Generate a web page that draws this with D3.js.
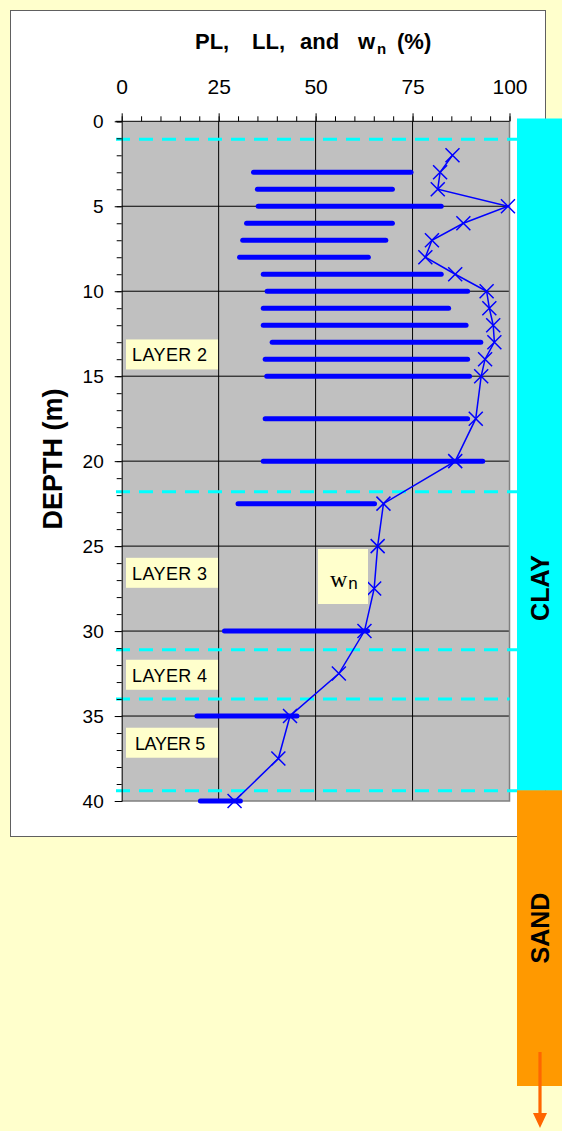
<!DOCTYPE html>
<html>
<head>
<meta charset="utf-8">
<script src="https://cdn.jsdelivr.net/npm/d3@7"></script>
<style>
  html, body { margin: 0; padding: 0; background: #ffffcc; }
  svg { display: block; }
  text { font-family: Arial, "Liberation Sans", sans-serif; }
</style>
</head>
<body>
<svg id="chart" width="562" height="1131"></svg>
<script>
// ---- data ----
const limitDepths = [3, 4, 5, 6, 7, 8, 9, 10, 11, 12, 13, 14, 15, 17.5, 20, 22.5, 30, 35, 40];
const plasticLimit = [34, 35, 35.2, 32.2, 31.2, 30.4, 36.5, 37.5, 36.5, 36.5, 38.8, 37, 37.4, 37, 36.5, 30, 26.5, 19.4, 20.3];
const liquidLimit  = [74.6, 69.8, 82.4, 69.8, 68.1, 63.6, 82.4, 89.2, 84.3, 88.8, 92.6, 89.2, 89.7, 89.2, 93.1, 65.2, 63.4, 45.2, 30.6];
const wnDepths = [2, 3, 4, 5, 6, 7, 8, 9, 10, 11, 12, 13, 14, 15, 17.5, 20, 22.5, 25, 27.5, 30, 32.5, 35, 37.5, 40];
const wnValues = [85.3, 82.1, 81.5, 99.6, 88.1, 80, 78.3, 86, 94.1, 94.8, 95.8, 96.1, 93.7, 92.7, 91.3, 86, 67.5, 66, 65.1, 62.6, 56, 43.4, 40.4, 29.1];
const xTicks = [0, 25, 50, 75, 100];
const yTicks = [0, 5, 10, 15, 20, 25, 30, 35, 40];
const layerBoundaries = [1.05, 21.8, 31.1, 34.0, 39.4];
const layerNames = ["LAYER 2", "LAYER 3", "LAYER 4", "LAYER 5"];
const layerLabelDepths = [13.75, 26.6, 32.6, 36.6];
const soilNames = ["CLAY", "SAND"];
const soilBottoms = [39.4, 57];

// ---- layout ----
const svg = d3.select("#chart");
const W = 562, H = 1131;
const x = d3.scaleLinear().domain([0, 100]).range([121.7, 509.5]);
const y = d3.scaleLinear().domain([0, 40]).range([121.3, 801]);

svg.append("rect").attr("width", W).attr("height", H).attr("fill", "#ffffcc");

// chart frame
svg.append("rect").attr("x", 10.5).attr("y", 10.5).attr("width", 535).attr("height", 826)
  .attr("fill", "#ffffff").attr("stroke", "#606060").attr("stroke-width", 1);

// plot area
svg.append("rect").attr("x", x(0)).attr("y", y(0)).attr("width", x(100) - x(0)).attr("height", y(40) - y(0))
  .attr("fill", "#c0c0c0");

// grid
const grid = svg.append("g");
grid.selectAll("line.v").data(xTicks.slice(1, -1)).join("line")
  .attr("x1", d => x(d)).attr("x2", d => x(d)).attr("y1", y(0)).attr("y2", y(40))
  .attr("stroke", "#000").attr("stroke-width", 1);
grid.selectAll("line.h").data(yTicks.slice(1, -1)).join("line")
  .attr("x1", x(0)).attr("x2", x(100)).attr("y1", d => y(d)).attr("y2", d => y(d))
  .attr("stroke", "#000").attr("stroke-width", 1);
// right/bottom plot border
svg.append("path")
  .attr("d", `M${x(100)},${y(0)}V${y(40)}H${x(0)}`)
  .attr("fill", "none").attr("stroke", "#808080").attr("stroke-width", 1.5);

// soil strip
const strip = svg.append("g");
const stripColors = ["#00ffff", "#ff9900"];
const clayBottom = y(soilBottoms[0]);
strip.selectAll("rect").data(soilNames).join("rect")
  .attr("x", 517).attr("width", 45)
  .attr("y", (d, i) => i === 0 ? 118.5 : clayBottom - 0.5)
  .attr("height", (d, i) => i === 0 ? clayBottom - 118.5 : 1086 - clayBottom + 0.5)
  .attr("fill", (d, i) => stripColors[i]);
strip.selectAll("text").data(soilNames).join("text")
  .attr("transform", (d, i) => `translate(549,${i === 0 ? 588 : 928}) rotate(-90)`)
  .attr("text-anchor", "middle").attr("font-size", 25).attr("font-weight", "bold")
  .attr("fill", "#000").text(d => d);
// arrow below
svg.append("line").attr("x1", 540).attr("x2", 540).attr("y1", 1052).attr("y2", 1115)
  .attr("stroke", "#ff6600").attr("stroke-width", 3.2);
svg.append("path").attr("d", "M533,1113 L547,1113 L540,1128 Z").attr("fill", "#ff6600");

// layer boundaries
svg.append("g").selectAll("line").data(layerBoundaries).join("line")
  .attr("x1", 116).attr("x2", (d, i) => i === 3 ? x(100) : 517)
  .attr("y1", d => y(d)).attr("y2", d => y(d))
  .attr("stroke", "#00ffff").attr("stroke-width", 3).attr("stroke-dasharray", "14,9");

// axes
const topMinor = d3.axisTop(x).tickValues(d3.range(0, 101, 5)).tickSize(5).tickFormat("");
const topMajor = d3.axisTop(x).tickValues(xTicks).tickSize(8).tickPadding(19.5).tickFormat(d3.format("d"));
const gTop1 = svg.append("g").attr("transform", `translate(0,${y(0)})`).call(topMinor);
const gTop2 = svg.append("g").attr("transform", `translate(0,${y(0)})`).call(topMajor);
gTop2.select(".domain").remove();
gTop2.selectAll("text").attr("font-size", 21).attr("font-family", "Arial, 'Liberation Sans', sans-serif").attr("fill", "#000");
gTop1.select(".domain").attr("d", `M${x(0) - 6},0H${x(100)}`);

const leftMinor = d3.axisLeft(y).tickValues(d3.range(0, 41, 1)).tickSize(5).tickFormat("");
const leftMajor = d3.axisLeft(y).tickValues(yTicks).tickSize(7).tickPadding(11).tickFormat(d3.format("d"));
const gL1 = svg.append("g").attr("transform", `translate(${x(0)},0)`).call(leftMinor);
const gL2 = svg.append("g").attr("transform", `translate(${x(0)},0)`).call(leftMajor);
gL2.select(".domain").remove();
gL2.selectAll("text").attr("font-size", 19).attr("font-family", "Arial, 'Liberation Sans', sans-serif").attr("fill", "#000");
[gTop1, gTop2, gL1, gL2].forEach(g => g.selectAll("line,path").attr("stroke", "#000"));

// axis titles
const title = svg.append("text").attr("y", 48.5).attr("font-size", 22).attr("font-weight", "bold").attr("fill", "#000");
title.append("tspan").attr("x", 195).text("PL,");
title.append("tspan").attr("x", 252).text("LL,");
title.append("tspan").attr("x", 300).text("and");
title.append("tspan").attr("x", 358).text("w");
title.append("tspan").attr("x", 377).attr("dy", 5).attr("font-size", 15).text("n");
title.append("tspan").attr("x", 397).attr("dy", -5).text("(%)");

svg.append("text").attr("transform", "translate(62,459) rotate(-90)")
  .attr("text-anchor", "middle").attr("font-size", 27).attr("font-weight", "bold").attr("fill", "#000")
  .text("DEPTH (m)");

// PL-LL bars
svg.append("g").selectAll("line").data(limitDepths).join("line")
  .attr("x1", (d, i) => x(plasticLimit[i])).attr("x2", (d, i) => x(liquidLimit[i]))
  .attr("y1", d => y(d)).attr("y2", d => y(d))
  .attr("stroke", "#0000ff").attr("stroke-width", 5).attr("stroke-linecap", "round");

// wn line + markers
const wnPts = wnDepths.map((d, i) => [x(wnValues[i]), y(d)]);
svg.append("path").attr("d", d3.line()(wnPts))
  .attr("fill", "none").attr("stroke", "#0000ff").attr("stroke-width", 1.5);
const m = 7;
svg.append("g").selectAll("path").data(wnPts).join("path")
  .attr("d", p => `M${p[0] - m},${p[1] - m}L${p[0] + m},${p[1] + m}M${p[0] - m},${p[1] + m}L${p[0] + m},${p[1] - m}`)
  .attr("stroke", "#0000ff").attr("stroke-width", 1.5).attr("fill", "none");

// layer labels
const lab = svg.append("g").selectAll("g").data(layerNames).join("g")
  .attr("transform", (d, i) => `translate(126,${y(layerLabelDepths[i])})`);
lab.append("rect").attr("x", 0).attr("y", -15.5).attr("width", 92).attr("height", 30).attr("fill", "#ffffcc");
lab.append("text").attr("x", (d, i) => i === 3 ? 9 : 6).attr("y", 6.5).attr("font-size", 18).attr("fill", "#000")
  .attr("letter-spacing", (d, i) => i === 3 ? -0.4 : 0.4)
  .text(d => d);

// wn label
const wl = svg.append("g");
wl.append("rect").attr("x", 318).attr("y", 549).attr("width", 50).attr("height", 55).attr("fill", "#ffffcc");
const wt = wl.append("text").attr("x", 330).attr("y", 587).attr("fill", "#000");
wt.append("tspan").attr("font-family", "'Liberation Serif', 'DejaVu Serif', serif").attr("font-size", 24).text("w");
wt.append("tspan").attr("font-size", 17).attr("dy", 2).attr("dx", 1).text("n");
</script>
</body>
</html>
